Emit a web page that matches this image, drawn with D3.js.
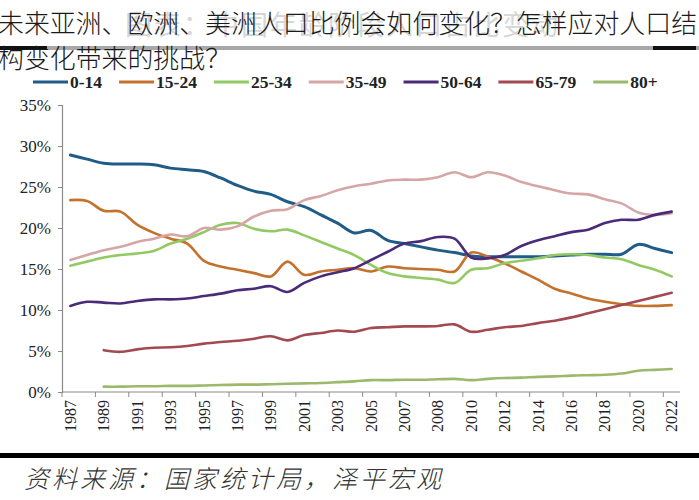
<!DOCTYPE html>
<html>
<head>
<meta charset="utf-8">
<script src="https://cdn.jsdelivr.net/npm/d3@7"></script>
<style>
html,body{margin:0;padding:0;background:#fff;}
svg{display:block;}
</style>
</head>
<body>
<svg id="chart" width="699" height="500"></svg>
<script>
// ---- data ----
const categories = ["1987","1988","1989","1990","1991","1992","1993","1994","1995","1996","1997","1998","1999","2000","2001","2002","2003","2004","2005","2006","2007","2007","2008","2009","2010","2011","2012","2013","2014","2015","2016","2017","2018","2019","2020","2021","2022"];
const seriesNames = ["0-14","15-24","25-34","35-49","50-64","65-79","80+"];
const s0_14  = [28.9,28.4,27.9,27.8,27.8,27.7,27.3,27.1,26.9,26.1,25.2,24.5,24.1,23.2,22.6,21.6,20.6,19.4,19.7,18.5,18.1,17.7,17.3,17.0,16.6,16.5,16.5,16.5,16.5,16.6,16.7,16.8,16.8,16.8,18.0,17.5,17.0];
const s15_24 = [23.4,23.3,22.1,22.0,20.4,19.4,18.7,18.1,16.0,15.3,14.9,14.5,14.1,15.9,14.3,14.7,14.9,15.1,14.7,15.3,15.1,15.0,14.9,14.7,17.0,16.5,15.7,14.7,13.7,12.6,12.0,11.4,11.0,10.7,10.5,10.5,10.6];
const s25_34 = [15.4,15.9,16.4,16.7,16.9,17.2,18.1,18.7,19.5,20.4,20.6,19.9,19.6,19.8,19.1,18.3,17.5,16.7,15.5,14.5,14.1,13.9,13.7,13.3,14.9,15.1,15.7,16.0,16.3,16.7,16.8,16.7,16.4,16.2,15.5,14.9,14.1];
const s35_49 = [16.1,16.7,17.3,17.7,18.3,18.7,19.2,19.0,20.0,19.8,20.2,21.4,22.1,22.3,23.4,23.9,24.6,25.1,25.4,25.8,25.9,25.9,26.2,26.8,26.2,26.8,26.4,25.6,25.1,24.6,24.2,24.1,23.5,23.0,21.9,21.6,21.8];
const s50_64 = [10.5,11.0,10.9,10.8,11.1,11.3,11.3,11.4,11.7,12.0,12.4,12.6,12.9,12.2,13.3,14.1,14.6,15.1,16.1,17.1,18.1,18.4,18.9,18.7,16.4,16.3,16.7,17.8,18.5,19.0,19.5,19.8,20.6,21.0,21.0,21.6,22.0];
const s65_79 = [null,null,5.1,4.9,5.2,5.4,5.45,5.6,5.9,6.1,6.25,6.5,6.8,6.3,6.95,7.2,7.5,7.35,7.8,7.9,8.0,8.0,8.05,8.25,7.35,7.6,7.9,8.05,8.4,8.7,9.1,9.6,10.1,10.6,11.1,11.6,12.1];
const s80p   = [null,null,0.65,0.65,0.7,0.7,0.75,0.75,0.8,0.85,0.9,0.9,0.95,1.0,1.05,1.1,1.2,1.3,1.45,1.45,1.5,1.5,1.55,1.6,1.45,1.6,1.7,1.75,1.85,1.9,2.0,2.05,2.1,2.25,2.6,2.7,2.8];
const yTicks = [0,5,10,15,20,25,30,35];
const titleLine1 = "未来亚洲、欧洲、美洲人口比例会如何变化？怎样应对人口结";
const titleLine2 = "构变化带来的挑战？";
const ghostTitle = "图表：中国年龄阶段人口占比变动";
const sourceText = "资料来源：国家统计局，泽平宏观";

const seriesValues = [s0_14,s15_24,s25_34,s35_49,s50_64,s65_79,s80p];
const colors = ["#1f5c88","#c4712c","#92c963","#d6a5a5","#4a2b7a","#a24a50","#9cb96b"];

(function(){
// ---- layout ----
const svg = d3.select("#chart");
svg.append("rect").attr("width",699).attr("height",500).attr("fill","#fff");

const pL = 62, pR = 680, pT = 105, pB = 392;
const idx = d3.range(categories.length);
const x = d3.scaleBand().domain(idx).range([pL, pR]).paddingInner(0).paddingOuter(0);
const y = d3.scaleLinear().domain([0,35]).range([pB, pT]);

// ghost title (underlying original chart title)
svg.append("text").attr("x",125).attr("y",35)
  .attr("font-family","'Noto Sans CJK SC', sans-serif").attr("font-size",27)
  .attr("fill","#d6d6d6").attr("letter-spacing",2).text(ghostTitle);

// decorative header bar
svg.append("rect").attr("x",0).attr("y",46).attr("width",699).attr("height",4).attr("fill","#a8a8a8");
svg.append("rect").attr("x",0).attr("y",46).attr("width",47).attr("height",4).attr("fill","#111");
svg.append("rect").attr("x",653).attr("y",46).attr("width",43).attr("height",4).attr("fill","#111");

// titles
svg.append("text").attr("x",-2).attr("y",33)
  .attr("font-family","'Noto Sans CJK SC', sans-serif").attr("font-size",25.9)
  .attr("font-weight",300).attr("fill","#1a1a1a").text(titleLine1);
svg.append("text").attr("x",-2).attr("y",68)
  .attr("font-family","'Noto Sans CJK SC', sans-serif").attr("font-size",25.9)
  .attr("font-weight",300).attr("fill","#1a1a1a").text(titleLine2);

// legend
const lg = svg.append("g").attr("font-family","'Liberation Serif','Times New Roman',serif")
  .attr("font-size",17.5).attr("font-weight","bold").attr("fill","#222");
let lx = 33;
seriesNames.forEach((n,i)=>{
  lg.append("line").attr("x1",lx).attr("x2",lx+35).attr("y1",82).attr("y2",82)
    .attr("stroke",colors[i]).attr("stroke-width",3);
  const t = lg.append("text").attr("x",lx+37).attr("y",88).text(n);
  lx += 37 + t.node().getComputedTextLength() + 17;
});

// y axis
const yAxis = d3.axisLeft(y).tickValues(yTicks).tickSize(4).tickFormat(d=>d+"%");
const ga = svg.append("g").attr("transform",`translate(${pL},0)`).call(yAxis);
ga.select(".domain").attr("stroke","#8a8a8a").attr("stroke-width",1.2);
ga.selectAll(".tick line").attr("stroke","#8a8a8a");
ga.selectAll(".tick text").attr("font-family","'Liberation Serif','Times New Roman',serif")
  .attr("font-size",17).attr("fill","#222").attr("x",-11).attr("dy","0.35em");

// x axis
const gx = svg.append("g");
gx.append("line").attr("x1",pL).attr("x2",pR).attr("y1",pB).attr("y2",pB)
  .attr("stroke","#8a8a8a").attr("stroke-width",1.2);
idx.filter(i=>i%2===0).forEach(i=>{
  gx.append("line").attr("x1",x(i)).attr("x2",x(i)).attr("y1",pB).attr("y2",pB+5)
    .attr("stroke","#8a8a8a");
  gx.append("text")
    .attr("transform",`translate(${x(i)+x.bandwidth()/2},${pB+8}) rotate(-90)`)
    .attr("text-anchor","end").attr("dy","0.35em")
    .attr("font-family","'Liberation Serif','Times New Roman',serif")
    .attr("font-size",16).attr("fill","#222").text(categories[i]);
});

// lines
const line = d3.line()
  .defined(d=>d.v!==null)
  .x(d=>x(d.i)+x.bandwidth()/2)
  .y(d=>y(d.v))
  .curve(d3.curveCatmullRom.alpha(0.5));
seriesValues.forEach((vals,k)=>{
  const pts = vals.map((v,i)=>({i, v}));
  svg.append("path").datum(pts).attr("d",line)
    .attr("fill","none").attr("stroke",colors[k]).attr("stroke-width",k===0?3:2.6)
    .attr("stroke-linejoin","round").attr("stroke-linecap","round");
});

// bottom bar + source
svg.append("rect").attr("x",0).attr("y",453).attr("width",699).attr("height",5).attr("fill","#000");
svg.append("text").attr("x",24).attr("y",488)
  .attr("font-family","'Noto Sans CJK SC', sans-serif").attr("font-size",25)
  .attr("font-style","italic").attr("font-weight",300).attr("letter-spacing",3)
  .attr("fill","#333").text(sourceText);
})();
</script>
</body>
</html>
